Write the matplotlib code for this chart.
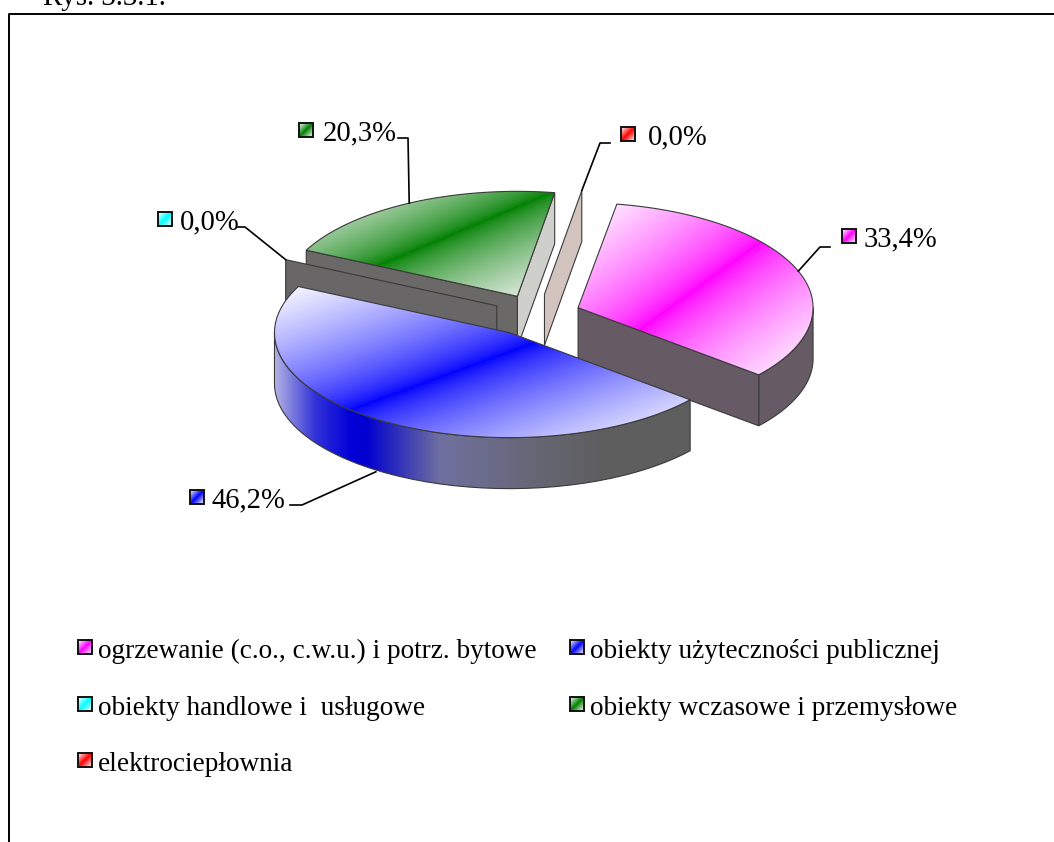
"""Exploded 3D-style pie chart with a two-column legend, drawn by hand in pixel space."""
import matplotlib
matplotlib.use("Agg")
import matplotlib.pyplot as plt
import numpy as np
from matplotlib.colors import to_rgb
from matplotlib.patches import PathPatch, Rectangle
from matplotlib.path import Path

categories = [
    "ogrzewanie (c.o., c.w.u.) i potrz. bytowe",
    "obiekty użyteczności publicznej",
    "obiekty handlowe i  usługowe",
    "obiekty wczasowe i przemysłowe",
    "elektrociepłownia",
]
shares = [33.4, 46.2, 0.0, 20.3, 0.0]
colors = ["#ff00ff", "#0000ff", "#00ffff", "#008000", "#ff0000"]

W, H = 1054, 842
CX, CY, RX, RY = 535, 315, 235, 105
DEPTH = 51
EXPLODE = 0.2
START = 80.5

# small x corrections per slice on top of the explode offset, pixels
slice_nudge = [-1, 0, 4, 4, 2]
# (elbow, end of leader) and where the label swatch starts, pixels
leader_pts = [[(820, 247), (830, 247)], [(302, 505), (290, 505)], [(245, 227), (238, 227)],
              [(408, 138), (398, 138)], [(600, 143), (610, 143)]]
label_pos = [(842, 236), (190, 497), (158, 219), (299, 130), (621, 134)]
label_dx = [22, 22, 22, 24, 27]
legend_pos = [(78, 647), (570, 647), (78, 704), (570, 704), (78, 760)]

serif = "Liberation Serif"


def pt(px):
    return px * 72 / 100


def slice_angles():
    a = START
    out = []
    for s in shares:
        b = a - s * 3.6
        out.append((a, b))
        a = b
    return out


def centre(a, b, nudge=0):
    mid = np.radians((a + b) / 2)
    return CX + EXPLODE * RX * np.cos(mid) + nudge, CY - EXPLODE * RY * np.sin(mid)


def rim(c, ang):
    ang = np.radians(ang)
    return c[0] + RX * np.cos(ang), c[1] - RY * np.sin(ang)


def arc(c, a, b, dy=0, n=80):
    t = np.radians(np.linspace(a, b, n))
    return np.column_stack([c[0] + RX * np.cos(t), c[1] - RY * np.sin(t) + dy])


def diagonal_fill(ax, verts, color, zorder, light="#ffffff"):
    """Light corners, full colour along the bbox diagonal."""
    x0, y0 = verts.min(axis=0)
    x1, y1 = verts.max(axis=0)
    u, v = np.meshgrid(np.linspace(0, 1, 300), np.linspace(0, 1, 300))
    k = np.clip(np.abs(u + v - 1), 0, 1)[..., None] ** 0.7
    img = np.array(to_rgb(color)) * (1 - k) + np.array(to_rgb(light)) * k
    im = ax.imshow(img, extent=(x0, x1, y1, y0), aspect="auto", zorder=zorder)
    patch = PathPatch(Path(np.vstack([verts, verts[:1]])), fc="none", ec="#3a3a3a", lw=0.8, zorder=zorder + 0.1)
    ax.add_patch(patch)
    im.set_clip_path(patch)


def polygon(ax, verts, fc, zorder):
    ax.add_patch(PathPatch(Path(np.vstack([verts, verts[:1]])), fc=fc, ec="#3a3a3a", lw=0.8, zorder=zorder))


def wall(ax, p, q, fc, zorder):
    polygon(ax, np.array([p, q, (q[0], q[1] + DEPTH), (p[0], p[1] + DEPTH)]), fc, zorder)


def rim_wall(ax, c, a, b, fc, zorder, stops_at=None):
    top = arc(c, a, b)
    low = arc(c, b, a, dy=DEPTH)
    verts = np.vstack([top, low])
    if isinstance(fc, str):
        polygon(ax, verts, fc, zorder)
        return
    # colour stops across the width of the rim
    x0, x1 = verts[:, 0].min(), verts[:, 0].max()
    stops = np.array([to_rgb(s) for s in fc])
    xs = np.linspace(0, 1, 400)
    img = np.column_stack([np.interp(xs, stops_at, stops[:, i]) for i in range(3)])[None, ...]
    y0, y1 = verts[:, 1].min(), verts[:, 1].max()
    im = ax.imshow(img, extent=(x0, x1, y1, y0), aspect="auto", zorder=zorder)
    patch = PathPatch(Path(np.vstack([verts, verts[:1]])), fc="none", ec="#3a3a3a", lw=0.8, zorder=zorder + 0.1)
    ax.add_patch(patch)
    im.set_clip_path(patch)


def swatch(ax, x, y, color, size=14):
    u, v = np.meshgrid(np.linspace(0, 1, 30), np.linspace(0, 1, 30))
    k = np.abs(u + v - 1)[..., None]
    img = np.array(to_rgb(color)) * (1 - k) + k
    ax.imshow(img, extent=(x, x + size, y + size, y), aspect="auto", zorder=8)
    ax.add_patch(Rectangle((x, y), size, size, fc="none", ec="#111111", lw=1.4, zorder=9))


def main():
    fig = plt.figure(figsize=(W / 100, H / 100), dpi=100)
    ax = fig.add_axes([0, 0, 1, 1])

    # page frame, open on the right and cut off at the bottom
    ax.plot([9, 9, W], [H, 14, 14], color="black", lw=1.4, zorder=1)
    ax.text(43, 5, "Rys. 3.3.1.", family=serif, fontsize=pt(29), ha="left", va="baseline", clip_on=True)

    ang = slice_angles()
    cen = [centre(a, b, n) for (a, b), n in zip(ang, slice_nudge)]

    # red: zero-width plate at the back
    wall(ax, cen[4], rim(cen[4], ang[4][0]), "#d3c3bf", 2)

    # green slice
    a, b = ang[3]
    c = cen[3]
    wall(ax, c, rim(c, b), "#cfcfcb", 3)
    wall(ax, c, rim(c, a), "#6b6868", 3)
    diagonal_fill(ax, np.vstack([[c], arc(c, a, b)]), colors[3], 3.5, light="#f0f2f0")

    # cyan: zero-width plate in front of the green
    wall(ax, cen[2], rim(cen[2], ang[2][0]), "#686666", 4)

    # pink slice
    a, b = ang[0]
    c = cen[0]
    rim_wall(ax, c, 0, b, "#665a64", 5)
    wall(ax, c, rim(c, b), "#665a64", 5)
    diagonal_fill(ax, np.vstack([[c], arc(c, a, b)]), colors[0], 5.5)

    # blue slice
    a, b = ang[1]
    c = cen[1]
    rim_wall(ax, c, a, -180, ["#b4b4e4", "#3030d8", "#0000d8", "#0000d0", "#7070a0", "#666674", "#5e5e5e", "#5e5e5e"], 6,
             stops_at=[0, 0.1, 0.185, 0.22, 0.4, 0.63, 0.8, 1])
    diagonal_fill(ax, np.vstack([[c], arc(c, a, b)]), colors[1], 6.5)

    # leaders and percentage labels
    for i, (share, color) in enumerate(zip(shares, colors)):
        a, b = ang[i]
        mid = (a + b) / 2
        start = rim(cen[i], mid)
        if i == 1:
            start = (start[0] - 6, start[1] + DEPTH)
        xs, ys = zip(start, *leader_pts[i])
        ax.plot(xs, ys, color="black", lw=1.2, zorder=7)
        x, y = label_pos[i]
        swatch(ax, x, y - 7, color)
        ax.text(x + label_dx[i], y + 10, f"{share:.1f}".replace(".", ",") + "%", family=serif, fontsize=pt(28.6),
                ha="left", va="baseline", color="black", zorder=8)

    # legend
    for name, color, (x, y) in zip(categories, colors, legend_pos):
        swatch(ax, x, y - 7, color)
        ax.text(x + 20, y + 11, name, family=serif, fontsize=pt(27.3), ha="left", va="baseline", color="black", zorder=8)

    ax.set_xlim(0, W)
    ax.set_ylim(H, 0)
    ax.axis("off")
    fig.savefig("out.png", dpi=100, facecolor="white")


if __name__ == "__main__":
    main()
